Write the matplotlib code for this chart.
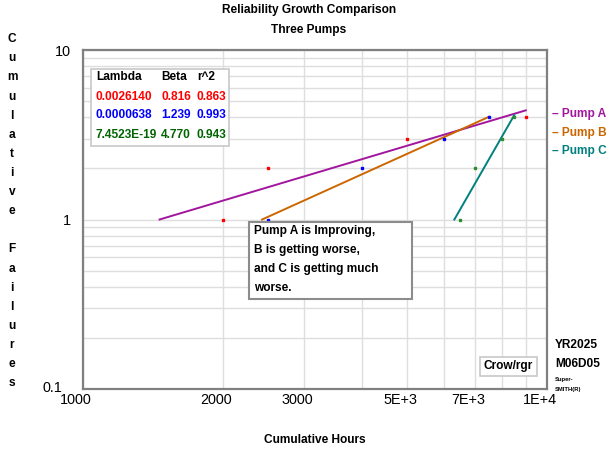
import numpy as np
import matplotlib
matplotlib.use("Agg")
import matplotlib.pyplot as plt
import matplotlib.transforms as mtransforms
from matplotlib.patches import Rectangle

plt.rcParams['font.family'] = ['Liberation Sans', 'DejaVu Sans']

# data
pumps = ["Pump A", "Pump B", "Pump C"]
hours_a = [2000, 2500, 5000, 9000]
hours_b = [2500, 4000, 6000, 7500]
hours_c = [6500, 7000, 8000, 8500]
failures = [1, 2, 3, 4]
lambdas = [0.0026140, 0.0000638, 7.4523e-19]
betas = [0.816, 1.239, 4.770]
r2 = [0.863, 0.993, 0.943]
lambda_text = ["0.0026140", "0.0000638", "7.4523E-19"]

x_ticks = [1000, 2000, 3000, 5000, 7000, 10000]
x_ticklabels = ["1000", "2000", "3000", "5E+3", "7E+3", "1E+4"]
y_ticks = [0.1, 1, 10]
y_ticklabels = ["0.1", "1", "10"]

line_colors = ["#A2169E", "#CC6600", "#00807F"]
point_colors = ["#FF0000", "#0000FF", "#2E8B2E"]
text_colors = ["#FF0000", "#0000FF", "#006400"]

W, H = 615, 451
fig = plt.figure(figsize=(W / 100, H / 100), dpi=100)
ax = fig.add_axes([83 / W, 1 - 389 / H, (547 - 83) / W, (389 - 50) / H])


def px(x, y):
    return x / W, 1 - y / H


ax.set_xscale("log")
ax.set_yscale("log")
ax.set_xlim(1000, 10000)
ax.set_ylim(0.1, 10)

# grid on every decade step
grid_x = [1000 * k for k in range(1, 11)]
grid_y = [0.1 * k for k in range(1, 10)] + [k for k in range(1, 11)]
ax.set_xticks(grid_x, minor=True)
ax.set_yticks(grid_y, minor=True)
ax.grid(True, which="both", color="#DEDEDE", linewidth=1)
ax.set_axisbelow(True)
ax.set_xticks(x_ticks)
ax.set_xticklabels(x_ticklabels)
ax.set_yticks(y_ticks)
ax.set_yticklabels(y_ticklabels)
ax.xaxis.set_minor_formatter(matplotlib.ticker.NullFormatter())
ax.yaxis.set_minor_formatter(matplotlib.ticker.NullFormatter())
ax.tick_params(axis="both", which="both", length=0, labelsize=10.4)
ax.tick_params(axis="x", pad=3)
ax.tick_params(axis="y", pad=9)
for lab in ax.get_xticklabels():
    lab.set_transform(lab.get_transform() + mtransforms.ScaledTranslation(-7 / 100, 0, fig.dpi_scale_trans))
# the bottom y label sits a little left and up, as in the original
ylabs = ax.get_yticklabels()
ylabs[0].set_transform(ylabs[0].get_transform() + mtransforms.ScaledTranslation(-8 / 100, 2 / 100, fig.dpi_scale_trans))
for s in ax.spines.values():
    s.set_color("#808080")
    s.set_linewidth(1.6)

all_hours = [hours_a, hours_b, hours_c]
for i in range(3):
    h = np.array(all_hours[i], dtype=float)
    n = np.array(failures, dtype=float)
    # Crow-AMSAA fit line, from N=1 up to the last failure
    t0 = (1 / lambdas[i]) ** (1 / betas[i])
    t = np.geomspace(t0, h[-1], 50)
    ax.plot(t, lambdas[i] * t ** betas[i], color=line_colors[i], linewidth=1.4, zorder=3)
    ax.plot(h, n, "s", color=point_colors[i], markersize=1.8, zorder=4)

# titles
bold = dict(fontweight="bold", fontsize=8.6)
fig.text(*px(309, 10), "Reliability Growth Comparison", ha="center", va="center", **bold)
fig.text(*px(309, 30), "Three Pumps", ha="center", va="center", **bold)
fig.text(*px(315, 440), "Cumulative Hours", ha="center", va="center", **bold)

letters = "Cumulative Failures"
for k, ch in enumerate(letters):
    fig.text(*px(12, 39.3 + k * 19.1), ch, ha="center", va="center", **bold)

# parameter table
fig.patches.append(Rectangle(px(91, 146), 138 / W, 77 / H, transform=fig.transFigure,
                             facecolor="white", edgecolor="#C8C8C8", linewidth=1.2, zorder=5))
fig.text(*px(96, 77), "Lambda", ha="left", va="center", zorder=6, **bold)
fig.text(*px(161, 77), "Beta", ha="left", va="center", zorder=6, **bold)
fig.text(*px(197, 77), "r^2", ha="left", va="center", zorder=6, **bold)
for i in range(3):
    y = 96.5 + i * 19
    fig.text(*px(96, y), lambda_text[i], ha="left", va="center", color=text_colors[i], zorder=6, **bold)
    fig.text(*px(161, y), "%.3f" % betas[i], ha="left", va="center", color=text_colors[i], zorder=6, **bold)
    fig.text(*px(196, y), "%.3f" % r2[i], ha="left", va="center", color=text_colors[i], zorder=6, **bold)

# pump labels at right
for i in range(3):
    fig.text(*px(552, 114 + i * 18.7), "\u2013 " + pumps[i], ha="left", va="center",
             color=line_colors[i], **bold)

# note box
fig.patches.append(Rectangle(px(249, 299), 163 / W, 77 / H, transform=fig.transFigure,
                             facecolor="white", edgecolor="#8C8C8C", linewidth=1.5, zorder=5))
note = ["Pump A is Improving,", "B is getting worse,", "and C is getting much", "worse."]
for k, line in enumerate(note):
    fig.text(*px(254, 231 + k * 19), line, ha="left", va="center", zorder=6, **bold)

# crow box
fig.patches.append(Rectangle(px(480, 376), 57 / W, 19 / H, transform=fig.transFigure,
                             facecolor="white", edgecolor="#C8C8C8", linewidth=1.2, zorder=5))
fig.text(*px(508.5, 366.5), "Crow/rgr", ha="center", va="center", zorder=6, **bold)

fig.text(*px(555, 345), "YR2025", ha="left", va="center", **bold)
fig.text(*px(555, 364), "M06D05", ha="left", va="center", **bold)
fig.text(*px(555, 380), "Super-", ha="left", va="center", fontsize=4.2, fontweight="bold")
fig.text(*px(555, 389), "SMITH(R)", ha="left", va="center", fontsize=4.2, fontweight="bold")

fig.savefig("out.png", dpi=100)
